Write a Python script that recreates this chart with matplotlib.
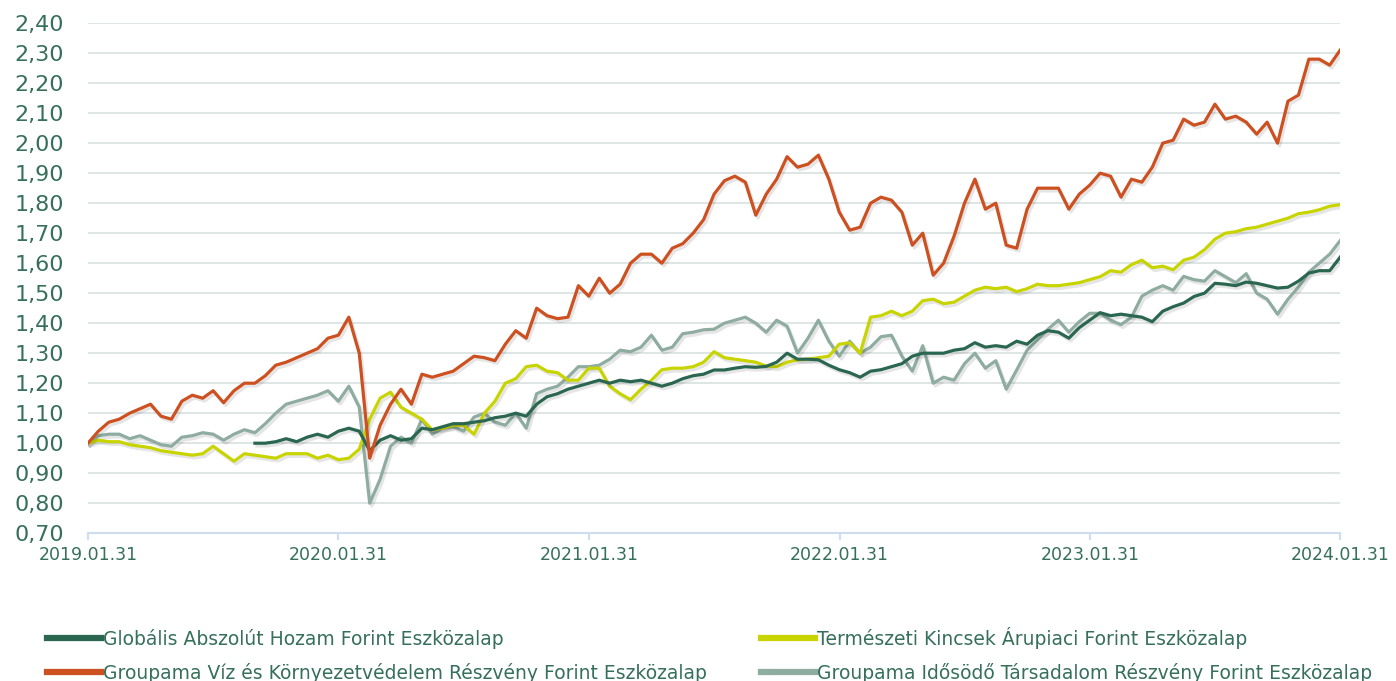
import pandas as pd
import matplotlib
matplotlib.use("Agg")
import matplotlib.pyplot as plt
import matplotlib.patheffects as pe
import numpy as np

plt.rcParams['font.family'] = ['DejaVu Sans']

# semi-monthly readings, 2019.01.31 -> 2024.01.31
start_date = "2019-01-31"
end_date = "2024-01-31"

viz = [1.00, 1.04, 1.07, 1.08, 1.10, 1.115, 1.13, 1.09, 1.08, 1.14,
       1.16, 1.15, 1.175, 1.135, 1.175, 1.20, 1.20, 1.225, 1.26, 1.27,
       1.285, 1.30, 1.315, 1.35, 1.36, 1.42, 1.30, 0.95, 1.06, 1.13,
       1.18, 1.13, 1.23, 1.22, 1.23, 1.24, 1.265, 1.29, 1.285, 1.275,
       1.33, 1.375, 1.35, 1.45, 1.425, 1.415, 1.42, 1.525, 1.49, 1.55,
       1.50, 1.53, 1.60, 1.63, 1.63, 1.60, 1.65, 1.665, 1.70, 1.745,
       1.83, 1.875, 1.89, 1.87, 1.76, 1.83, 1.88, 1.955, 1.92, 1.93,
       1.96, 1.88, 1.77, 1.71, 1.72, 1.80, 1.82, 1.81, 1.77, 1.66,
       1.70, 1.56, 1.60, 1.69, 1.80, 1.88, 1.78, 1.80, 1.66, 1.65,
       1.78, 1.85, 1.85, 1.85, 1.78, 1.83, 1.86, 1.90, 1.89, 1.82,
       1.88, 1.87, 1.92, 2.00, 2.01, 2.08, 2.06, 2.07, 2.13, 2.08,
       2.09, 2.07, 2.03, 2.07, 2.00, 2.14, 2.16, 2.28, 2.28, 2.26,
       2.31]

globalis = [None] * 16 + [
       1.00, 1.00, 1.005, 1.015,
       1.005, 1.02, 1.03, 1.02, 1.04, 1.05, 1.04, 0.975, 1.01, 1.025,
       1.01, 1.015, 1.05, 1.045, 1.055, 1.065, 1.065, 1.07, 1.075, 1.085,
       1.09, 1.10, 1.09, 1.13, 1.155, 1.165, 1.18, 1.19, 1.20, 1.21,
       1.20, 1.21, 1.205, 1.21, 1.20, 1.19, 1.20, 1.215, 1.225, 1.23,
       1.244, 1.244, 1.25, 1.255, 1.253, 1.256, 1.27, 1.30, 1.28, 1.28,
       1.278, 1.26, 1.245, 1.235, 1.22, 1.24, 1.245, 1.255, 1.265, 1.29,
       1.30, 1.30, 1.30, 1.31, 1.315, 1.335, 1.32, 1.325, 1.32, 1.34,
       1.33, 1.36, 1.375, 1.37, 1.35, 1.385, 1.41, 1.435, 1.425, 1.43,
       1.425, 1.42, 1.405, 1.44, 1.455, 1.467, 1.489, 1.50, 1.533, 1.53,
       1.525, 1.537, 1.533, 1.525, 1.517, 1.52, 1.54, 1.567, 1.575, 1.575,
       1.62]

termeszeti = [1.00, 1.01, 1.005, 1.005, 0.995, 0.99, 0.985, 0.975, 0.97, 0.965,
       0.96, 0.965, 0.99, 0.965, 0.94, 0.965, 0.96, 0.955, 0.95, 0.965,
       0.965, 0.965, 0.95, 0.96, 0.945, 0.95, 0.98, 1.08, 1.15, 1.17,
       1.12, 1.10, 1.08, 1.045, 1.05, 1.06, 1.06, 1.03, 1.10, 1.14,
       1.20, 1.215, 1.255, 1.26, 1.24, 1.235, 1.21, 1.21, 1.25, 1.25,
       1.19, 1.165, 1.145, 1.18, 1.21, 1.245, 1.25, 1.25, 1.255, 1.27,
       1.305, 1.285, 1.28, 1.275, 1.27, 1.257, 1.255, 1.27, 1.278, 1.28,
       1.285, 1.29, 1.33, 1.335, 1.30, 1.42, 1.425, 1.44, 1.425, 1.44,
       1.475, 1.48, 1.465, 1.47, 1.49, 1.51, 1.52, 1.515, 1.52, 1.505,
       1.515, 1.53, 1.525, 1.525, 1.53, 1.535, 1.545, 1.555, 1.575, 1.57,
       1.595, 1.61, 1.585, 1.59, 1.578, 1.61, 1.62, 1.645, 1.68, 1.70,
       1.705, 1.715, 1.72, 1.73, 1.74, 1.75, 1.765, 1.77, 1.778, 1.79,
       1.795]

idosodo = [1.00, 1.025, 1.03, 1.03, 1.015, 1.025, 1.01, 0.995, 0.99, 1.02,
       1.025, 1.035, 1.03, 1.01, 1.03, 1.045, 1.035, 1.065, 1.10, 1.13,
       1.14, 1.15, 1.16, 1.175, 1.14, 1.19, 1.12, 0.80, 0.88, 0.99,
       1.02, 1.00, 1.08, 1.03, 1.05, 1.055, 1.04, 1.087, 1.10, 1.07,
       1.06, 1.10, 1.05, 1.165, 1.18, 1.19, 1.22, 1.255, 1.255, 1.26,
       1.28, 1.31, 1.305, 1.32, 1.36, 1.31, 1.32, 1.365, 1.37, 1.378,
       1.38, 1.40, 1.41, 1.42, 1.40, 1.37, 1.41, 1.39, 1.30, 1.35,
       1.41, 1.34, 1.29, 1.34, 1.30, 1.32, 1.355, 1.36, 1.29, 1.24,
       1.325, 1.20, 1.22, 1.21, 1.265, 1.30, 1.25, 1.275, 1.18, 1.244,
       1.31, 1.345, 1.38, 1.41, 1.37, 1.405, 1.433, 1.433, 1.41, 1.395,
       1.42, 1.49, 1.51, 1.525, 1.51, 1.556, 1.545, 1.54, 1.575, 1.555,
       1.535, 1.565, 1.50, 1.48, 1.43, 1.48, 1.52, 1.57, 1.60, 1.63,
       1.675]

labels = ["Globális Abszolút Hozam Forint Eszközalap",
          "Groupama Víz és Környezetvédelem Részvény Forint Eszközalap",
          "Természeti Kincsek Árupiaci Forint Eszközalap",
          "Groupama Idősödő Társadalom Részvény Forint Eszközalap"]
colors = ["#2a6650", "#cd5020", "#c8d400", "#8eaca0"]

text_color = "#36705a"

dates = pd.date_range(start_date, end_date, periods=len(viz))
df = pd.DataFrame({"globalis": globalis, "viz": viz,
                   "termeszeti": termeszeti, "idosodo": idosodo},
                  index=dates).astype(float)

fig = plt.figure(figsize=(13.96, 6.81), dpi=100)
ax = fig.add_axes([0.063, 0.217, 0.897, 0.749])

shadow = [pe.SimpleLineShadow(offset=(1.5, -2), alpha=0.10, rho=0.7), pe.Normal()]

series = [("globalis", 4), ("viz", 5), ("termeszeti", 3), ("idosodo", 2)]
for (col, z), lab, c in zip(series, labels, colors):
    ax.plot(df.index, df[col], color=c, lw=2.3, label=lab, zorder=z,
            path_effects=shadow, solid_joinstyle="round")

ax.set_ylim(0.70, 2.40)
ax.set_yticks(np.arange(0.70, 2.401, 0.10))
ax.yaxis.set_major_formatter(plt.FuncFormatter(lambda v, p: f"{v:.2f}".replace(".", ",")))
ax.set_xlim(pd.Timestamp(start_date), pd.Timestamp(end_date))
year_ticks = pd.to_datetime([f"{y}-01-31" for y in range(2019, 2025)])
ax.set_xticks(year_ticks)
ax.set_xticklabels([d.strftime("%Y.%m.%d") for d in year_ticks])

ax.grid(axis="y", color="#dbe3e3", lw=1.3)
ax.set_axisbelow(True)
for s in ["top", "right", "left"]:
    ax.spines[s].set_visible(False)
ax.spines["bottom"].set_color("#cfddee")
ax.spines["bottom"].set_linewidth(1.5)
ax.tick_params(axis="y", length=0, labelsize=16, labelcolor=text_color, pad=17)
ax.tick_params(axis="x", length=5, width=1.5, color="#cfddee", labelsize=12.5,
               labelcolor=text_color, pad=4)

handles, labs = ax.get_legend_handles_labels()
leg = fig.legend(handles, labs, ncol=2, loc="upper left",
                 bbox_to_anchor=(0.028, 0.091), frameon=False,
                 fontsize=13.5, handlelength=2.9, handletextpad=0.1,
                 columnspacing=2.9, labelspacing=0.75, borderaxespad=0)
for t in leg.get_texts():
    t.set_color(text_color)
for h in leg.legend_handles:
    h.set_linewidth(4.5)
    h.set_path_effects([])

fig.savefig("out.png", dpi=100)
